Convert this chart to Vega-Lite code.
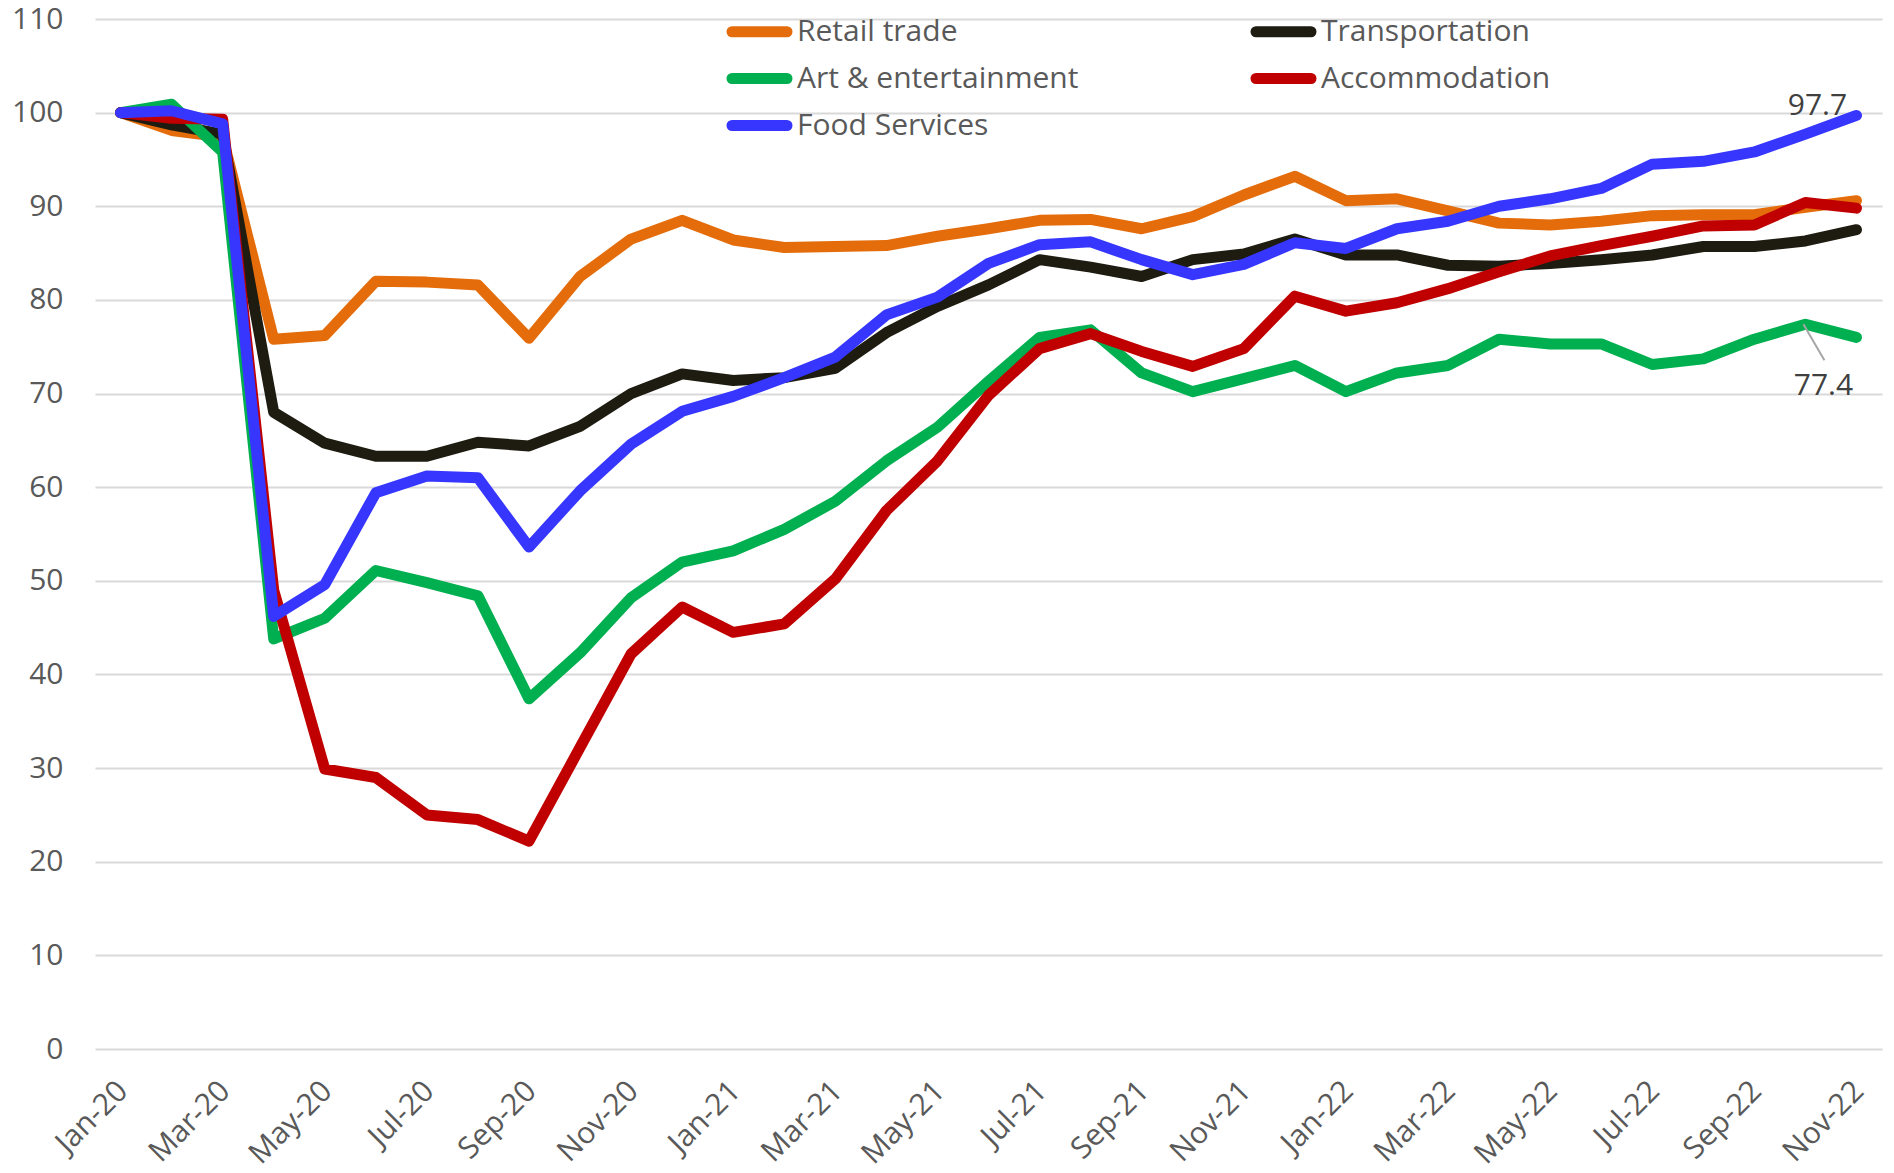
{
  "$schema": "https://vega.github.io/schema/vega-lite/v6.json",
  "autosize": {"type": "none"},
  "padding": {"left": 95, "top": 19, "right": 12, "bottom": 124},
  "width": 1787,
  "height": 1030,
  "background": "white",
  "config": {
    "font": "Open Sans",
    "view": {"stroke": null}
  },
  "datasets": {
    "main": [
      {"month": "Jan-20", "Retail trade": 100, "Transportation": 100, "Art & entertainment": 100, "Accommodation": 100, "Food Services": 100},
      {"month": "Feb-20", "Retail trade": 98.1, "Transportation": 98.7, "Art & entertainment": 100.9, "Accommodation": 99.4, "Food Services": 100.2},
      {"month": "Mar-20", "Retail trade": 97.4, "Transportation": 97.7, "Art & entertainment": 95.8, "Accommodation": 99.3, "Food Services": 98.8},
      {"month": "Apr-20", "Retail trade": 75.8, "Transportation": 68.0, "Art & entertainment": 43.8, "Accommodation": 49.0, "Food Services": 46.2},
      {"month": "May-20", "Retail trade": 76.2, "Transportation": 64.7, "Art & entertainment": 46.0, "Accommodation": 29.9, "Food Services": 49.6},
      {"month": "Jun-20", "Retail trade": 82.0, "Transportation": 63.3, "Art & entertainment": 51.1, "Accommodation": 29.0, "Food Services": 59.4},
      {"month": "Jul-20", "Retail trade": 81.9, "Transportation": 63.3, "Art & entertainment": 49.8, "Accommodation": 25.0, "Food Services": 61.2},
      {"month": "Aug-20", "Retail trade": 81.6, "Transportation": 64.8, "Art & entertainment": 48.4, "Accommodation": 24.5, "Food Services": 61.0},
      {"month": "Sep-20", "Retail trade": 75.9, "Transportation": 64.4, "Art & entertainment": 37.4, "Accommodation": 22.2, "Food Services": 53.6},
      {"month": "Oct-20", "Retail trade": 82.5, "Transportation": 66.5, "Art & entertainment": 42.3, "Accommodation": 32.2, "Food Services": 59.6},
      {"month": "Nov-20", "Retail trade": 86.5, "Transportation": 70.0, "Art & entertainment": 48.2, "Accommodation": 42.2, "Food Services": 64.6},
      {"month": "Dec-20", "Retail trade": 88.5, "Transportation": 72.1, "Art & entertainment": 52.0, "Accommodation": 47.2, "Food Services": 68.1},
      {"month": "Jan-21", "Retail trade": 86.4, "Transportation": 71.4, "Art & entertainment": 53.2, "Accommodation": 44.5, "Food Services": 69.7},
      {"month": "Feb-21", "Retail trade": 85.6, "Transportation": 71.7, "Art & entertainment": 55.5, "Accommodation": 45.4, "Food Services": 71.7},
      {"month": "Mar-21", "Retail trade": 85.7, "Transportation": 72.7, "Art & entertainment": 58.5, "Accommodation": 50.2, "Food Services": 73.9},
      {"month": "Apr-21", "Retail trade": 85.8, "Transportation": 76.5, "Art & entertainment": 62.8, "Accommodation": 57.5, "Food Services": 78.4},
      {"month": "May-21", "Retail trade": 86.8, "Transportation": 79.3, "Art & entertainment": 66.4, "Accommodation": 62.8, "Food Services": 80.3},
      {"month": "Jun-21", "Retail trade": 87.6, "Transportation": 81.6, "Art & entertainment": 71.3, "Accommodation": 69.8, "Food Services": 83.9},
      {"month": "Jul-21", "Retail trade": 88.5, "Transportation": 84.3, "Art & entertainment": 76.0, "Accommodation": 74.8, "Food Services": 85.9},
      {"month": "Aug-21", "Retail trade": 88.6, "Transportation": 83.5, "Art & entertainment": 76.8, "Accommodation": 76.4, "Food Services": 86.2},
      {"month": "Sep-21", "Retail trade": 87.6, "Transportation": 82.5, "Art & entertainment": 72.2, "Accommodation": 74.5, "Food Services": 84.3},
      {"month": "Oct-21", "Retail trade": 88.9, "Transportation": 84.3, "Art & entertainment": 70.2, "Accommodation": 72.9, "Food Services": 82.7},
      {"month": "Nov-21", "Retail trade": 91.2, "Transportation": 84.9, "Art & entertainment": 71.6, "Accommodation": 74.8, "Food Services": 83.8},
      {"month": "Dec-21", "Retail trade": 93.2, "Transportation": 86.5, "Art & entertainment": 73.0, "Accommodation": 80.4, "Food Services": 86.1},
      {"month": "Jan-22", "Retail trade": 90.6, "Transportation": 84.8, "Art & entertainment": 70.2, "Accommodation": 78.8, "Food Services": 85.5},
      {"month": "Feb-22", "Retail trade": 90.8, "Transportation": 84.8, "Art & entertainment": 72.2, "Accommodation": 79.7, "Food Services": 87.6},
      {"month": "Mar-22", "Retail trade": 89.5, "Transportation": 83.7, "Art & entertainment": 73.0, "Accommodation": 81.2, "Food Services": 88.4},
      {"month": "Apr-22", "Retail trade": 88.2, "Transportation": 83.6, "Art & entertainment": 75.8, "Accommodation": 83.0, "Food Services": 90.0},
      {"month": "May-22", "Retail trade": 88.0, "Transportation": 83.9, "Art & entertainment": 75.3, "Accommodation": 84.7, "Food Services": 90.8},
      {"month": "Jun-22", "Retail trade": 88.4, "Transportation": 84.3, "Art & entertainment": 75.3, "Accommodation": 85.8, "Food Services": 91.9},
      {"month": "Jul-22", "Retail trade": 89.0, "Transportation": 84.8, "Art & entertainment": 73.1, "Accommodation": 86.8, "Food Services": 94.5},
      {"month": "Aug-22", "Retail trade": 89.1, "Transportation": 85.7, "Art & entertainment": 73.7, "Accommodation": 87.9, "Food Services": 94.8},
      {"month": "Sep-22", "Retail trade": 89.1, "Transportation": 85.7, "Art & entertainment": 75.8, "Accommodation": 88.0, "Food Services": 95.8},
      {"month": "Oct-22", "Retail trade": 89.9, "Transportation": 86.3, "Art & entertainment": 77.4, "Accommodation": 90.4, "Food Services": 97.7},
      {"month": "Nov-22", "Retail trade": 90.6, "Transportation": 87.5, "Art & entertainment": 76.0, "Accommodation": 89.8, "Food Services": 99.7}
    ],
    "labels": [
      {"month": "Oct-22", "value": 97.7, "label": "97.7", "series": "Food Services"},
      {"month": "Oct-22", "value": 77.4, "label": "77.4", "series": "Art & entertainment"}
    ]
  },
  "encoding": {
    "x": {
      "field": "month", "type": "ordinal",
      "scale": {
        "type": "point", "padding": 0.5,
        "domain": ["Jan-20", "Feb-20", "Mar-20", "Apr-20", "May-20", "Jun-20", "Jul-20", "Aug-20", "Sep-20", "Oct-20", "Nov-20", "Dec-20", "Jan-21", "Feb-21", "Mar-21", "Apr-21", "May-21", "Jun-21", "Jul-21", "Aug-21", "Sep-21", "Oct-21", "Nov-21", "Dec-21", "Jan-22", "Feb-22", "Mar-22", "Apr-22", "May-22", "Jun-22", "Jul-22", "Aug-22", "Sep-22", "Oct-22", "Nov-22"]
      },
      "axis": {
        "title": null,
        "values": ["Jan-20", "Mar-20", "May-20", "Jul-20", "Sep-20", "Nov-20", "Jan-21", "Mar-21", "May-21", "Jul-21", "Sep-21", "Nov-21", "Jan-22", "Mar-22", "May-22", "Jul-22", "Sep-22", "Nov-22"],
        "labelAngle": -45,
        "labelAlign": "right",
        "labelBaseline": "middle",
        "labelFontSize": 30,
        "labelColor": "#595959",
        "labelPadding": 37,
        "labelOffset": 2,
        "ticks": false,
        "domain": false,
        "grid": false
      }
    }
  },
  "layer": [
    {
      "data": {"name": "main"},
      "transform": [
        {"fold": ["Retail trade", "Transportation", "Art & entertainment", "Accommodation", "Food Services"], "as": ["series", "value"]}
      ],
      "mark": {"type": "line", "strokeWidth": 11, "strokeCap": "round", "strokeJoin": "round"},
      "encoding": {
        "y": {
          "field": "value", "type": "quantitative",
          "scale": {"domain": [0, 110], "nice": false},
          "axis": {
            "title": null,
            "values": [0, 10, 20, 30, 40, 50, 60, 70, 80, 90, 100, 110],
            "labelFontSize": 30,
            "labelColor": "#595959",
            "labelPadding": 32,
            "ticks": false,
            "domain": false,
            "grid": true,
            "gridColor": "#D9D9D9",
            "gridWidth": 2
          }
        },
        "color": {
          "field": "series", "type": "nominal",
          "scale": {
            "domain": ["Retail trade", "Transportation", "Art & entertainment", "Accommodation", "Food Services"],
            "range": ["#E46C0A", "#1E1C11", "#00B050", "#C00000", "#3636FF"]
          },
          "legend": {
            "title": null,
            "orient": "none",
            "direction": "vertical",
            "values": ["Retail trade", "Art & entertainment", "Food Services", "Transportation", "Accommodation"],
            "legendX": 645,
            "legendY": -7,
            "columns": 2,
            "columnPadding": 155,
            "rowPadding": 2,
            "symbolType": "M-2,0H2",
            "symbolSize": 756,
            "symbolStrokeWidth": 11,
            "labelFontSize": 30,
            "labelColor": "#595959",
            "labelOffset": 18,
            "labelLimit": 600,
            "encode": {"symbols": {"update": {"strokeCap": {"value": "round"}}}}
          }
        }
      }
    },
    {
      "mark": {"type": "rule", "color": "#FFC000", "strokeWidth": 5, "strokeDash": [24, 10]},
      "encoding": {"y": {"datum": 90}}
    },
    {
      "data": {"name": "labels"},
      "transform": [{"filter": "datum.label === '77.4'"}],
      "mark": {"type": "rule", "color": "#A6A6A6", "strokeWidth": 2, "xOffset": -2, "x2Offset": 19, "y2Offset": 36},
      "encoding": {
        "x2": {"field": "month"},
        "y": {"field": "value", "type": "quantitative"},
        "y2": {"field": "value"}
      }
    },
    {
      "data": {"name": "labels"},
      "transform": [{"filter": "datum.label === '97.7'"}],
      "mark": {"type": "text", "fontSize": 30, "color": "#404040", "dx": 12, "dy": -28, "baseline": "middle", "align": "center"},
      "encoding": {
        "y": {"field": "value", "type": "quantitative"},
        "text": {"field": "label"}
      }
    },
    {
      "data": {"name": "labels"},
      "transform": [{"filter": "datum.label === '77.4'"}],
      "mark": {"type": "text", "fontSize": 30, "color": "#404040", "dx": 18, "dy": 62, "baseline": "middle", "align": "center"},
      "encoding": {
        "y": {"field": "value", "type": "quantitative"},
        "text": {"field": "label"}
      }
    }
  ]
}
